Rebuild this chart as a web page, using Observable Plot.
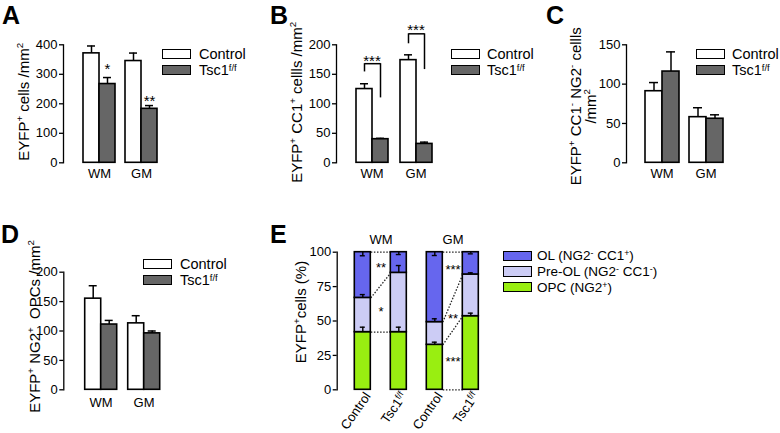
<!DOCTYPE html>
<html><head><meta charset="utf-8">
<script src="https://cdn.jsdelivr.net/npm/d3@7"></script>
<script src="https://cdn.jsdelivr.net/npm/@observablehq/plot@0.6"></script>
<style>
body{margin:0;background:#fff;font-family:"Liberation Sans",Arial,Helvetica,sans-serif;}
#fig{position:relative;width:780px;height:433px;overflow:hidden;background:#fff;}
.panel{position:absolute;}
.letter{position:absolute;font-weight:bold;font-size:25px;line-height:25px;color:#000;}
.legend{position:absolute;color:#000;}
.item{display:flex;align-items:center;white-space:nowrap;}
.sw{display:inline-block;width:29px;height:10.5px;border:1.6px solid #000;box-sizing:border-box;flex:none;}
.sup{position:relative;top:-0.45em;font-size:65%;}
</style>
</head><body>
<div id="fig"></div>
<script>
// ---------- data ----------
const regions = ["WM", "GM"];
const genotypes = ["Control", "Tsc1f/f"];
const genotypeColors = ["#ffffff", "#666666"];

// Panel A: EYFP+ cells / mm2  (order: WM, GM)
const aControl = [371, 345], aControlSem = [25, 27];
const aTsc = [267, 183], aTscSem = [22, 11];
const aTicks = [0, 100, 200, 300, 400];
const aStars = [
  {region: "WM", genotype: "Tsc1f/f", y: 318, label: "*"},
  {region: "GM", genotype: "Tsc1f/f", y: 210, label: "**"}
];

// Panel B: EYFP+ CC1+ cells / mm2
const bControl = [125, 174], bControlSem = [9, 9];
const bTsc = [40, 32], bTscSem = [1.5, 3];
const bTicks = [0, 50, 100, 150, 200];
const bBrackets = [
  {region: "WM", top: 168, left: 154, right: 110, starY: 173, label: "***"},
  {region: "GM", top: 218.6, left: 201.7, right: 158, starY: 224, label: "***"}
];

// Panel C: EYFP+ CC1- NG2- cells / mm2
const cControl = [91, 58], cControlSem = [11, 12];
const cTsc = [116, 56], cTscSem = [25, 5];
const cTicks = [0, 50, 100, 150];

// Panel D: EYFP+ NG2+ OPCs / mm2
const dControl = [155, 113], dControlSem = [22, 13];
const dTsc = [111, 96], dTscSem = [7, 4];
const dTicks = [0, 50, 100, 150, 200];

// Panel E: EYFP+ cells (%), order: WM Control, WM Tsc1, GM Control, GM Tsc1
const eSegments = ["OPC", "Pre-OL", "OL"];           // bottom to top
const eColors = ["#99ee11", "#ccccf5", "#6666ee"];
const eOpc = [41.9, 41.9, 32.7, 53.5], eOpcSem = [3.6, 3.6, 1.9, 2.2];
const ePreOl = [24.9, 43.1, 16.5, 30.3], ePreOlSem = [2.4, 5.3, 2.4, 1.2];
const eOl = [33.2, 15.0, 50.8, 16.2], eOlSem = [2.6, 1.7, 2.4, 1.2];
const eTicks = [0, 25, 50, 75, 100];
const eBaselineLinks = ["GM"];
const eStars = [
  {region: "WM", y: 89, label: "**"},
  {region: "WM", y: 56.5, label: "*"},
  {region: "GM", y: 87.5, label: "***"},
  {region: "GM", y: 51.5, label: "**"},
  {region: "GM", y: 20, label: "***"}
];
const eLegend = [
  {color: eColors[2], html: 'OL (NG2<span class="sup">-</span> CC1<span class="sup">+</span>)'},
  {color: eColors[1], html: 'Pre-OL (NG2<span class="sup">-</span> CC1<span class="sup">-</span>)'},
  {color: eColors[0], html: 'OPC (NG2<span class="sup">+</span>)'}
];

// ---------- helpers ----------
const FONT = '"Liberation Sans", Arial, Helvetica, sans-serif';
const fig = document.getElementById("fig");
const SVGNS = "http://www.w3.org/2000/svg";
const baseStyle = {fontFamily: FONT, fontSize: "13px", background: "transparent", overflow: "visible", color: "#000"};
const SUPMAP = {"⁺": "+", "⁻": "-", "²": "2"};

function rowsFor(control, controlSem, tsc, tscSem) {
  return regions.flatMap((region, i) => [
    {region, genotype: genotypes[0], mean: control[i], sem: controlSem[i]},
    {region, genotype: genotypes[1], mean: tsc[i], sem: tscSem[i]}
  ]);
}

function supTsc(svg) {
  svg.querySelectorAll("text").forEach(t => {
    if (t.textContent === "Tsc1f/f" && !t.querySelector("tspan")) {
      t.textContent = "Tsc1";
      const s = document.createElementNS(SVGNS, "tspan");
      s.setAttribute("dy", "-0.45em");
      s.setAttribute("font-size", "70%");
      s.textContent = "f/f";
      t.appendChild(s);
    }
  });
}

// turn unicode superscript characters into small raised tspans
function superscriptify(el, fs) {
  const s = el.textContent;
  if (!/[⁺⁻²]/.test(s)) return;
  const runs = [];
  for (const ch of s) {
    const sup = ch in SUPMAP;
    const c = sup ? SUPMAP[ch] : ch;
    if (runs.length && runs[runs.length - 1].sup === sup) runs[runs.length - 1].text += c;
    else runs.push({sup, text: c});
  }
  const shift = 0.42 * fs;
  el.textContent = "";
  let raised = false;
  runs.forEach(r => {
    const t = document.createElementNS(SVGNS, "tspan");
    if (r.sup) { t.setAttribute("font-size", (0.65 * fs) + "px"); t.setAttribute("dy", -shift); raised = true; }
    else if (raised) { t.setAttribute("dy", shift); raised = false; }
    t.textContent = r.text;
    el.appendChild(t);
  });
}

function tidyLabel(svg, px, dy) {
  svg.querySelectorAll('g[aria-label="y-axis label"]').forEach(g => { g.style.fontSize = px + "px"; });
  svg.querySelectorAll("text, tspan").forEach(t => {
    if (!t.children.length && /[↑↓]/.test(t.textContent)) t.textContent = t.textContent.replace(/\s*[↑↓]\s*/g, "");
  });
  svg.querySelectorAll('g[aria-label="y-axis label"] text, g[aria-label="y-axis label"] tspan').forEach(t => {
    if (!t.children.length) superscriptify(t, px);
  });
  if (dy) {
    svg.querySelectorAll('g[aria-label="y-axis label"] > text').forEach(t => {
      const g = document.createElementNS(SVGNS, "g");
      g.setAttribute("transform", `translate(0,${dy})`);
      t.parentNode.insertBefore(g, t);
      g.appendChild(t);
    });
  }
}

function place(node, left, top) {
  const div = document.createElement("div");
  div.className = "panel";
  div.style.left = left + "px";
  div.style.top = top + "px";
  div.appendChild(node);
  fig.appendChild(div);
}

function letter(ch, left, top) {
  const d = document.createElement("div");
  d.className = "letter";
  d.textContent = ch;
  d.style.left = left + "px";
  d.style.top = top + "px";
  fig.appendChild(d);
}

function legend(items, left, top, fontSize, rowH, gap) {
  const d = document.createElement("div");
  d.className = "legend";
  d.style.left = left + "px";
  d.style.top = top + "px";
  d.style.fontSize = fontSize + "px";
  items.forEach(it => {
    const r = document.createElement("div");
    r.className = "item";
    r.style.height = rowH + "px";
    const sw = document.createElement("span");
    sw.className = "sw";
    sw.style.background = it.color;
    sw.style.marginRight = gap + "px";
    r.appendChild(sw);
    const tx = document.createElement("span");
    tx.innerHTML = it.html;
    r.appendChild(tx);
    d.appendChild(r);
  });
  fig.appendChild(d);
}

const genoLegend = genotypes.map((g, i) => ({
  color: genotypeColors[i],
  html: g === "Tsc1f/f" ? 'Tsc1<span class="sup">f/f</span>' : g
}));

// y axis drawn on an un-faceted overlay with the same frame, so it sits at the frame's left edge
function yAxisOverlay(c) {
  const svg = Plot.plot({
    width: c.width, height: c.height,
    marginLeft: c.ml, marginRight: c.mr, marginTop: c.mt, marginBottom: c.mb,
    style: baseStyle,
    y: {domain: [0, d3.max(c.ticks)]},
    marks: [
      Plot.frame({anchor: "left", stroke: "#000", strokeWidth: 1.3}),
      Plot.axisY({ticks: c.ticks, tickSize: 4, tickPadding: 2, strokeWidth: 1.3, label: c.label,
                  labelAnchor: "center", labelArrow: "none", labelOffset: c.lo})
    ]
  });
  tidyLabel(svg, c.labelSize || 15, c.labelDy || 0);
  return svg;
}

function barPanel(c) {
  const rows = rowsFor(c.control, c.controlSem, c.tsc, c.tscSem);
  return Plot.plot({
    width: c.width, height: c.height,
    marginLeft: c.ml, marginRight: c.mr, marginTop: c.mt, marginBottom: c.mb,
    style: baseStyle,
    fx: {domain: regions, paddingInner: c.pi, paddingOuter: c.po, axis: "bottom", label: null, tickSize: 0, tickPadding: c.fxPad},
    x: {domain: genotypes, padding: 0, axis: null},
    y: {domain: [0, d3.max(c.ticks)], axis: null},
    color: {domain: genotypes, range: genotypeColors},
    marks: [
      Plot.barY(rows, {fx: "region", x: "genotype", y: "mean", fill: "genotype", stroke: "#000", strokeWidth: 1.6}),
      Plot.ruleX(rows, {fx: "region", x: "genotype", y1: "mean", y2: d => d.mean + d.sem, stroke: "#000", strokeWidth: 1.5}),
      Plot.tickY(rows, {fx: "region", x: "genotype", y: d => d.mean + d.sem, insetLeft: 4, insetRight: 4, stroke: "#000", strokeWidth: 1.5}),
      ...(c.extra || [])
    ]
  });
}

function panel(c, left, top) {
  place(barPanel(c), left, top);
  place(yAxisOverlay(c), left, top);
}

// ---------- Panel A ----------
panel({
  width: 260, height: 190, ml: 63, mr: 83, mt: 44.3, mb: 27.7, pi: 0.232, po: 0.466, fxPad: 6,
  control: aControl, controlSem: aControlSem, tsc: aTsc, tscSem: aTscSem, ticks: aTicks,
  label: "EYFP⁺ cells /mm²", lo: 45, labelDy: -2,
  extra: [Plot.text(aStars, {fx: "region", x: "genotype", y: "y", text: "label", fontSize: 15})]
}, 0, 0);

// ---------- Panel B ----------
panel({
  width: 260, height: 190, ml: 76, mr: 68.4, mt: 44.3, mb: 27.7, pi: 0.248, po: 0.429, fxPad: 6,
  control: bControl, controlSem: bControlSem, tsc: bTsc, tscSem: bTscSem, ticks: bTicks,
  label: "EYFP⁺ CC1⁺ cellls /mm²", lo: 45, labelDy: -1.5,
  extra: [
    Plot.link(bBrackets, {fx: "region", x1: () => genotypes[0], x2: () => genotypes[1], y1: "top", y2: "top", stroke: "#000", strokeWidth: 1.5}),
    Plot.ruleX(bBrackets, {fx: "region", x: () => genotypes[0], y1: "top", y2: "left", stroke: "#000", strokeWidth: 1.5}),
    Plot.ruleX(bBrackets, {fx: "region", x: () => genotypes[1], y1: "top", y2: "right", stroke: "#000", strokeWidth: 1.5}),
    Plot.text(bBrackets, {fx: "region", y: "starY", text: "label", fontSize: 15, frameAnchor: "middle"})
  ]
}, 260, 0);

// ---------- Panel C ----------
panel({
  width: 260, height: 190, ml: 106, mr: 38.6, mt: 44.3, mb: 27.7, pi: 0.21, po: 0.416, fxPad: 6,
  control: cControl, controlSem: cControlSem, tsc: cTsc, tscSem: cTscSem, ticks: cTicks,
  label: "EYFP⁺ CC1⁻ NG2⁻ cellls\n/mm²", lo: 56, labelDy: 2.5
}, 520, 0);

// ---------- Panel D ----------
panel({
  width: 260, height: 233, ml: 63.3, mr: 80.4, mt: 71.7, mb: 43.7, pi: 0.24, po: 0.46, fxPad: 7.5,
  control: dControl, controlSem: dControlSem, tsc: dTsc, tscSem: dTscSem, ticks: dTicks,
  label: "EYFP⁺ NG2⁺  OPCs /mm²", lo: 34, labelSize: 15, labelDy: -4.5
}, 0, 200);

// ---------- Panel E ----------
const eValues = [eOpc, ePreOl, eOl];
const eSems = [eOpcSem, ePreOlSem, eOlSem];
const eCells = regions.flatMap(region => genotypes.map(genotype => ({region, genotype})));
const eRows = [], eErr = [];
eCells.forEach((cell, i) => {
  let base = 0;
  eSegments.forEach((segment, k) => {
    const top = base + eValues[k][i];
    eRows.push({...cell, segment, y1: base, y2: top});
    const last = k === eSegments.length - 1;
    eErr.push({...cell, segment, from: top, to: last ? top - eSems[k][i] : top + eSems[k][i]});
    base = top;
  });
});
const eLinks = regions.flatMap(region => {
  const c = eRows.filter(d => d.region === region && d.genotype === genotypes[0]);
  const t = eRows.filter(d => d.region === region && d.genotype === genotypes[1]);
  const links = c.map((d, k) => ({region, from: d.y2, to: t[k].y2}));
  if (eBaselineLinks.includes(region)) links.push({region, from: 0, to: 0});
  return links;
});

const eFrame = {width: 260, height: 233, ml: 76.7, mr: 24.3, mt: 51.7, mb: 43.7,
                ticks: eTicks, label: "EYFP⁺cells (%)", lo: 42, labelDy: -9};
const eSvg = Plot.plot({
  width: eFrame.width, height: eFrame.height,
  marginLeft: eFrame.ml, marginRight: eFrame.mr, marginTop: eFrame.mt, marginBottom: eFrame.mb,
  style: baseStyle,
  fx: {domain: regions, paddingInner: 0.262, paddingOuter: 0.229, axis: "top", label: null, tickSize: 0, tickPadding: 8},
  x: {domain: genotypes, paddingInner: 0.545, paddingOuter: 0},
  y: {domain: [0, 100], axis: null},
  color: {domain: eSegments, range: eColors},
  marks: [
    Plot.axisX({anchor: "bottom", tickRotate: -55, tickSize: 0, tickPadding: 4, dx: 5, label: null}),
    Plot.link(eLinks, {
      fx: "region", x1: () => genotypes[0], x2: () => genotypes[1], y1: "from", y2: "to",
      stroke: "#222", strokeWidth: 1.3, strokeDasharray: "1.5,1.6",
      render(index, scales, values, dimensions, context, next) {
        const h = scales.x && scales.x.bandwidth ? scales.x.bandwidth() / 2 : 0;
        const x1 = Array.from(values.x1, v => v + h);
        const x2 = Array.from(values.x2, v => v - h);
        return next(index, scales, {...values, x1, x2}, dimensions, context);
      }
    }),
    Plot.barY(eRows, {fx: "region", x: "genotype", y1: "y1", y2: "y2", fill: "segment", stroke: "#000", strokeWidth: 1.6}),
    Plot.ruleX(eErr, {fx: "region", x: "genotype", y1: "from", y2: "to", stroke: "#000", strokeWidth: 1.4}),
    Plot.tickY(eErr, {fx: "region", x: "genotype", y: "to", insetLeft: 5.5, insetRight: 5.5, stroke: "#000", strokeWidth: 1.4}),
    Plot.text(eStars, {fx: "region", y: "y", text: "label", fontSize: 13, frameAnchor: "middle"})
  ]
});
supTsc(eSvg);
place(eSvg, 260, 200);
place(yAxisOverlay(eFrame), 260, 200);

// ---------- letters & legends ----------
letter("A", 2, 3);
letter("B", 270, 3);
letter("C", 546, 3);
letter("D", 1, 222);
letter("E", 270, 222);

legend(genoLegend, 162, 46, 14.5, 16, 8);
legend(genoLegend, 451, 46, 14.5, 16, 7);
legend(genoLegend, 696, 46, 14.5, 16, 7);
legend(genoLegend, 143, 256, 14.5, 16, 8);
legend(eLegend, 503, 248, 13.5, 15.7, 5);
</script>
</body></html>
